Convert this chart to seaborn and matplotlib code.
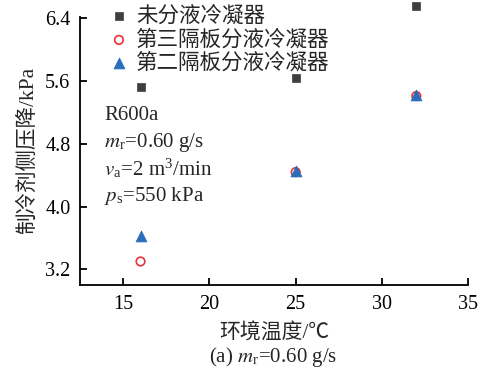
import matplotlib
matplotlib.use("Agg")
import matplotlib.pyplot as plt
import seaborn as sns
import pandas as pd

temps = [16, 25, 32]
no_split = [5.52, 5.64, 6.56]
third_baffle = [3.30, 4.44, 5.41]
second_baffle = [3.62, 4.46, 5.42]
labels = ["未分液冷凝器", "第三隔板分液冷凝器", "第二隔板分液冷凝器"]
xticks = [15, 20, 25, 30, 35]
yticks = [3.2, 4.0, 4.8, 5.6, 6.4]

sns.set_theme(style="ticks")
plt.rcParams['font.family'] = ['Liberation Serif', 'Noto Sans CJK SC']
plt.rcParams['mathtext.fontset'] = 'stix'

fig = plt.figure(figsize=(4.86, 3.74), dpi=100)
ax = fig.add_axes([0.165, 0.238, 0.798, 0.717])

df = pd.DataFrame({"T": temps, "a": no_split, "b": third_baffle, "c": second_baffle})
sns.scatterplot(data=df, x="T", y="a", ax=ax, marker="s", color="#3f3f3f", s=40,
                edgecolor="#3f3f3f", label=labels[0], clip_on=False, zorder=3)
sns.scatterplot(data=df, x="T", y="b", ax=ax, marker="o", facecolor="none",
                edgecolor="#e8313a", linewidth=1.2, s=38, label=labels[1], clip_on=False, zorder=3)
sns.scatterplot(data=df, x="T", y="c", ax=ax, marker="^", color="#2a6ebb", s=60,
                edgecolor="#2a6ebb", label=labels[2], clip_on=False, zorder=4)

ax.set_xlim(12.5, 35)
ax.set_ylim(3.0, 6.42)
ax.set_xticks(xticks)
ax.set_yticks(yticks)
ax.set_yticklabels([f"{v:.1f}" for v in yticks])
for s in ["top", "right"]:
    ax.spines[s].set_visible(False)
for s in ["left", "bottom"]:
    ax.spines[s].set_linewidth(1.3)
    ax.spines[s].set_color("black")
ax.tick_params(direction="in", length=5, width=1.3, labelsize=14.5, colors="black")
ax.tick_params(axis="y", pad=7)
ax.tick_params(axis="x", pad=7)
ax.set_xlabel("环境温度/℃", fontsize=15, labelpad=7)
ax.set_ylabel("制冷剂侧压降/kPa", fontsize=15.5, labelpad=5)

leg = ax.legend(loc="upper left", bbox_to_anchor=(0.05, 1.07), frameon=False,
                fontsize=15.5, handletextpad=0.3, labelspacing=0.14, borderaxespad=0,
                handlelength=1.0)

info = ["R600a", r"$m_\mathregular{r}$=0.60 g/s", r"$v_\mathregular{a}$=2 m$^\mathregular{3}$/min",
        r"$p_\mathregular{s}$=550 kPa"]
ys = [116, 142, 169, 196]
for t, y in zip(info, ys):
    fig.text(104/486, 1 - y/374, t, fontsize=15, va="center", ha="left")

fig.text(273/486, 1 - 357/374, r"(a) $m_\mathregular{r}$=0.60 g/s", fontsize=15,
         ha="center", va="center")

fig.savefig("out.png", dpi=100)
